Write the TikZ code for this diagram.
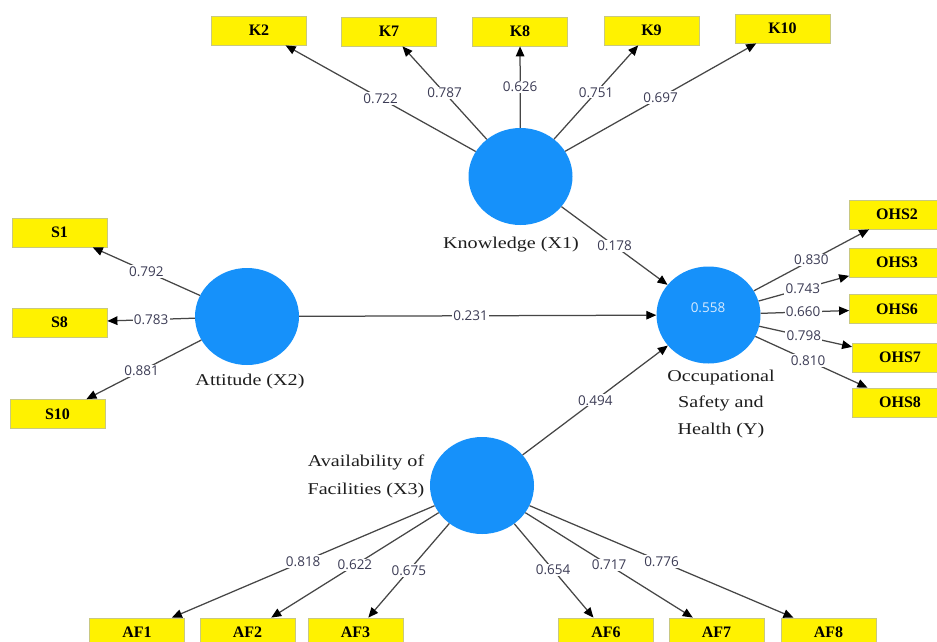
\documentclass[tikz,border=0pt]{standalone}
\usepackage{fontspec}
\setmainfont{Liberation Serif}
\newfontfamily\numfont{Open Sans}
\newfontfamily\latfont[FakeStretch=1.22]{Liberation Serif}
\usetikzlibrary{shapes.geometric,arrows.meta}
\definecolor{latblue}{RGB}{22,145,250}
\definecolor{boxborder}{RGB}{200,200,130}
\definecolor{linegray}{RGB}{70,70,70}
\definecolor{numcol}{RGB}{60,60,85}
\definecolor{lattext}{RGB}{30,30,30}
\tikzset{
  ind/.style={rectangle, fill=yellow, draw=boxborder, line width=0.8pt,
    minimum width=95pt, minimum height=29pt, inner sep=0pt,
    font=\fontsize{16}{17}\selectfont\bfseries},
  lat/.style={ellipse, fill=latblue, minimum width=104pt, minimum height=97pt, inner sep=0pt},
  latlbl/.style={font=\latfont\fontsize{16.5}{26.5}\selectfont, text=lattext, align=center, inner sep=0pt},
  pth/.style={draw=linegray, line width=1.25pt, -{Triangle[length=10pt,width=8.5pt,color=black]}},
  lbl/.style={fill=white, inner sep=1.2pt, font=\numfont\fontsize{13.5}{14}\selectfont, text=numcol}
}
\begin{document}
\begin{tikzpicture}[x=1pt,y=-1pt]
\clip (0,0) rectangle (937,641);
\fill[white] (0,0) rectangle (937,641);
% latent variables
\node[lat] (K) at (520.5,176.5) {};
\node[lat] (A) at (247,316.5) {};
\node[lat] (Y) at (708.5,315) {};
\node[lat] (F) at (482,485.5) {};
\node[font=\numfont\fontsize{13.5}{14}\selectfont, text={rgb,255:red,215;green,235;blue,255}] (r2) at (708,308) {0.558};
% latent labels
\node[latlbl] (Klbl) at (511,245) {Knowledge (X1)};
\node[latlbl] (Albl) at (250,382) {Attitude (X2)};
\node[latlbl] (Ylbl) at (721,404) {Occupational\\Safety and\\Health (Y)};
\node[latlbl, font=\latfont\fontsize{16.5}{28}\selectfont] (Flbl) at (366,476) {Availability of\\Facilities (X3)};
% indicators
\node[ind] (K2) at (259,30.5) {K2};
\node[ind] (K7) at (389,31.5) {K7};
\node[ind] (K8) at (520,31.5) {K8};
\node[ind] (K9) at (651.5,30.5) {K9};
\node[ind] (K10) at (782.5,28.5) {K10};
\node[ind] (S1) at (59.5,232.5) {S1};
\node[ind] (S8) at (59.5,322.5) {S8};
\node[ind] (S10) at (57.5,414) {S10};
\node[ind] (O2) at (897,214.5) {OHS2};
\node[ind] (O3) at (897,262.5) {OHS3};
\node[ind] (O6) at (897,309) {OHS6};
\node[ind] (O7) at (900,357.5) {OHS7};
\node[ind] (O8) at (900,402.5) {OHS8};
\node[ind] (AF1) at (137,632.5) {AF1};
\node[ind] (AF2) at (247.5,632.5) {AF2};
\node[ind] (AF3) at (355.5,632.5) {AF3};
\node[ind] (AF6) at (606,632.5) {AF6};
\node[ind] (AF7) at (716.5,632.5) {AF7};
\node[ind] (AF8) at (828.5,632.5) {AF8};
% loadings
\draw[pth] (K) -- node[lbl]{0.722} (K2);
\draw[pth] (K) -- node[lbl]{0.787} (K7);
\draw[pth] (K) -- node[lbl]{0.626} (K8);
\draw[pth] (K) -- node[lbl]{0.751} (K9);
\draw[pth] (K) -- node[lbl]{0.697} (K10);
\draw[pth] (A) -- node[lbl]{0.792} (S1);
\draw[pth] (A) -- node[lbl]{0.783} (S8);
\draw[pth] (A) -- node[lbl, pos=0.52]{0.881} (S10);
\draw[pth] (Y) -- node[lbl]{0.830} (O2);
\draw[pth] (Y) -- node[lbl, pos=0.49]{0.743} (O3);
\draw[pth] (Y) -- node[lbl, pos=0.48]{0.660} (O6);
\draw[pth] (Y) -- node[lbl, pos=0.48]{0.798} (O7);
\draw[pth] (Y) -- node[lbl, pos=0.47]{0.810} (O8);
\draw[pth] (F) -- node[lbl]{0.818} (AF1);
\draw[pth] (F) -- node[lbl]{0.622} (AF2);
\draw[pth] (F) -- node[lbl]{0.675} (AF3);
\draw[pth] (F) -- node[lbl, pos=0.49]{0.654} (AF6);
\draw[pth] (F) -- node[lbl]{0.717} (AF7);
\draw[pth] (F) -- node[lbl]{0.776} (AF8);
% structural paths
\draw[pth] (K) -- node[lbl]{0.178} (Y);
\draw[pth] (A) -- node[lbl, pos=0.48]{0.231} (Y);
\draw[pth] (F) -- node[lbl]{0.494} (Y);
\end{tikzpicture}
\end{document}
